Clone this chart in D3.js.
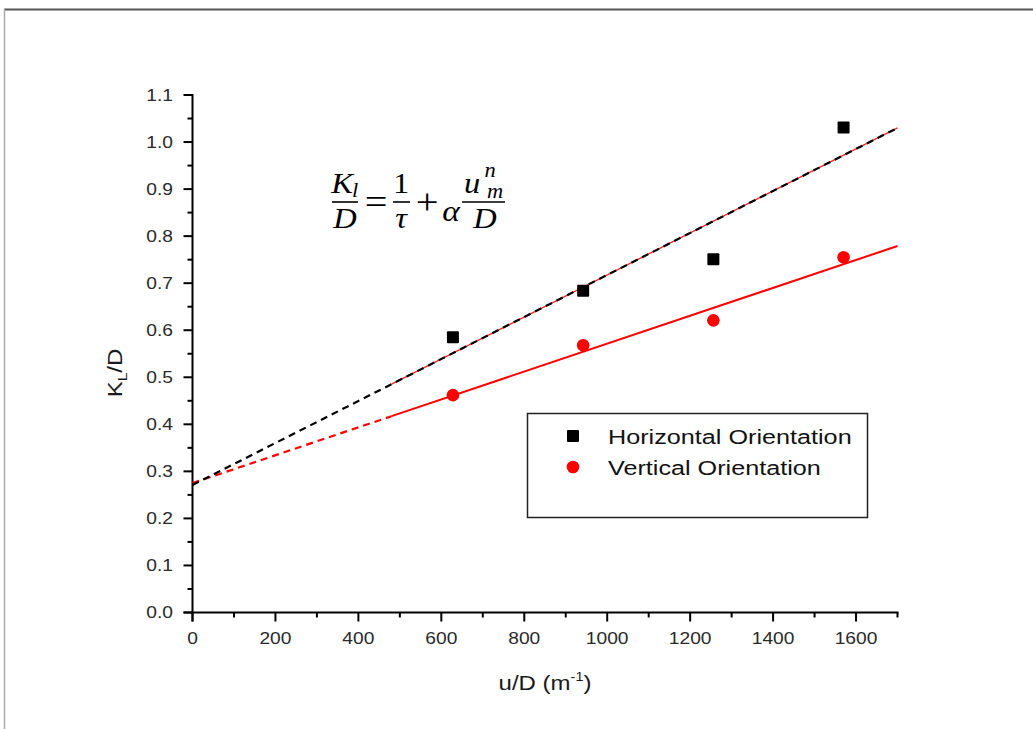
<!DOCTYPE html>
<html><head><meta charset="utf-8">
<script src="https://cdn.jsdelivr.net/npm/d3@7"></script>
<style>html,body{margin:0;padding:0;background:#fff;}svg{display:block;}</style>
</head><body>
<script>
// ---- data ----
const seriesNames = ["Horizontal Orientation", "Vertical Orientation"];
const uD = [628, 942, 1256, 1570];
const horizontalKD = [0.585, 0.684, 0.751, 1.031];
const verticalKD = [0.462, 0.568, 0.621, 0.755];
// linear fit endpoints (x = 0 and x = 1700)
const fitX = [0, 1700];
const fitHorizontal = [0.271, 1.030];
const fitVertical = [0.275, 0.779];
const solidFrom = 480; // fit drawn dashed (extrapolated) below this u/D
const xTicks = [0, 200, 400, 600, 800, 1000, 1200, 1400, 1600];
const yTicks = [0.0, 0.1, 0.2, 0.3, 0.4, 0.5, 0.6, 0.7, 0.8, 0.9, 1.0, 1.1];

const W = 1033, H = 729;
const SX = 1.2; // horizontal stretch of the text in the original
const svg = d3.select("body").append("svg").attr("width", W).attr("height", H);
const font = "'Liberation Sans', Arial, sans-serif";

// frame lines
svg.append("line").attr("x1", 4).attr("x2", W).attr("y1", 9.5).attr("y2", 9.5).attr("stroke", "#555").attr("stroke-width", 2);
svg.append("line").attr("x1", 4.5).attr("x2", 4.5).attr("y1", 9).attr("y2", H).attr("stroke", "#aaa").attr("stroke-width", 1.5);

const x = d3.scaleLinear().domain([0, 1700]).range([192.5, 897.5]);
const y = d3.scaleLinear().domain([0, 1.1]).range([612.5, 95]);

// axes
const ax = svg.append("g").attr("stroke", "#000").attr("stroke-width", 2).attr("fill", "none");
ax.append("line").attr("x1", x(0) - 9).attr("x2", x(1700) + 1).attr("y1", y(0)).attr("y2", y(0));
ax.append("line").attr("x1", x(0)).attr("x2", x(0)).attr("y1", y(1.1) - 1).attr("y2", y(0) + 9);
d3.range(0, 1701, 100).forEach(v => {
  const major = v % 200 === 0;
  ax.append("line").attr("x1", x(v)).attr("x2", x(v)).attr("y1", y(0)).attr("y2", y(0) + (major ? 9 : 5));
});
d3.range(0, 23).forEach(i => {
  const v = i * 0.05;
  const major = i % 2 === 0;
  ax.append("line").attr("y1", y(v)).attr("y2", y(v)).attr("x1", x(0)).attr("x2", x(0) - (major ? 9 : 5));
});

function stext(parent, tx, ty, anchor, size, fill, rot) {
  return parent.append("text")
    .attr("transform", `translate(${tx},${ty})` + (rot ? ` rotate(${rot})` : "") + ` scale(${SX},1)`)
    .attr("text-anchor", anchor).attr("font-family", font).attr("font-size", size).attr("fill", fill);
}

const xg = svg.append("g");
xTicks.forEach(d => stext(xg, x(d), 644, "middle", 16, "#2a2a2a").text(d));
const yg = svg.append("g");
yTicks.forEach(d => stext(yg, 173, y(d) + 5.5, "end", 16, "#2a2a2a").text(d.toFixed(1)));

// axis titles
const xt = stext(svg, 545, 690, "middle", 20, "#1a1a1a");
xt.append("tspan").text("u/D (m");
xt.append("tspan").attr("font-size", 12).attr("dy", -9).text("-1");
xt.append("tspan").attr("dy", 9).text(")");

const yt = stext(svg, 122, 373, "middle", 20, "#1a1a1a", -90);
yt.append("tspan").text("K");
yt.append("tspan").attr("font-size", 13).attr("dy", 5).text("L");
yt.append("tspan").attr("dy", -5).text("/D");

// fit lines
const line = d3.line().x(d => x(d[0])).y(d => y(d[1]));
function seg(fit, a, b) {
  const f = v => fit[0] + (fit[1] - fit[0]) * (v - fitX[0]) / (fitX[1] - fitX[0]);
  return [[a, f(a)], [b, f(b)]];
}
const g = svg.append("g").attr("fill", "none");
g.append("path").attr("d", line(seg(fitVertical, fitX[0], solidFrom))).attr("stroke", "#ff0000").attr("stroke-width", 2.2).attr("stroke-dasharray", "7,5");
g.append("path").attr("d", line(seg(fitVertical, solidFrom, fitX[1]))).attr("stroke", "#ff0000").attr("stroke-width", 2);
g.append("path").attr("d", line(seg(fitHorizontal, solidFrom, fitX[1]))).attr("stroke", "#ff2020").attr("stroke-width", 1.3);
g.append("path").attr("d", line(seg(fitHorizontal, fitX[0], fitX[1]))).attr("stroke", "#000").attr("stroke-width", 2.2).attr("stroke-dasharray", "7,5");

// points
svg.append("g").selectAll("rect").data(uD.map((u, i) => [u, horizontalKD[i]])).join("rect")
  .attr("x", d => x(d[0]) - 6).attr("y", d => y(d[1]) - 6).attr("width", 12).attr("height", 12).attr("rx", 1).attr("fill", "#000");
svg.append("g").selectAll("circle").data(uD.map((u, i) => [u, verticalKD[i]])).join("circle")
  .attr("cx", d => x(d[0])).attr("cy", d => y(d[1])).attr("r", 6.3).attr("fill", "#ff0000");

// legend
svg.append("rect").attr("x", 527.5).attr("y", 413.5).attr("width", 340).attr("height", 104)
  .attr("fill", "#fff").attr("stroke", "#222").attr("stroke-width", 1.5);
svg.append("rect").attr("x", 567).attr("y", 430).attr("width", 12).attr("height", 12).attr("rx", 1).attr("fill", "#000");
svg.append("circle").attr("cx", 573).attr("cy", 467).attr("r", 6.3).attr("fill", "#ff0000");
const lg = svg.append("g");
seriesNames.forEach((d, i) => stext(lg, 608, 444 + i * 31, "start", 21, "#111").text(d));

// formula
const fm = svg.append("g").attr("font-family", "'Liberation Serif', 'DejaVu Serif', serif").attr("fill", "#000");
function t(txt, xx, yy, size, italic) {
  fm.append("text").attr("transform", `translate(${xx},${yy}) scale(1.12,1)`).attr("font-size", size)
    .attr("font-style", italic ? "italic" : "normal").attr("text-anchor", "middle").text(txt);
}
function bar(x1, x2, yy) {
  fm.append("line").attr("x1", x1).attr("x2", x2).attr("y1", yy).attr("y2", yy).attr("stroke", "#000").attr("stroke-width", 1.6);
}
t("K", 342, 193, 29, true); t("l", 355, 197, 20, true);
bar(332, 358, 202);
t("D", 345, 228, 29, true);
t("=", 376, 214, 36, false);
t("1", 401, 193, 29, false);
bar(393, 410, 202);
t("τ", 401, 228, 29, true);
t("+", 427, 214, 36, false);
t("α", 451, 221, 30, true);
t("u", 472, 193, 29, true);
t("m", 495, 198, 20, true);
t("n", 490, 177, 20, true);
bar(462, 505, 202);
t("D", 485, 228, 29, true);
</script>
</body></html>
